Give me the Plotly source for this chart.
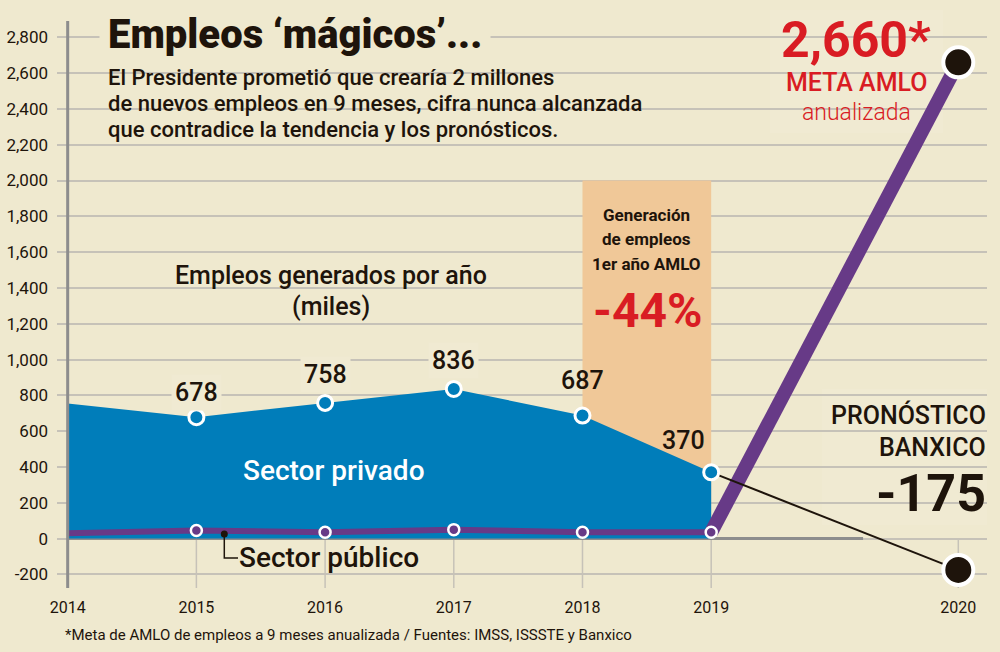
import plotly.graph_objects as go

# ---------------- data ----------------
anios = [2014, 2015, 2016, 2017, 2018, 2019]
sector_privado = [755, 678, 758, 836, 687, 370]
sector_publico = [30, 45, 35, 50, 35, 35]
anio_meta = 2020
meta_amlo = 2660
pronostico_banxico = -175
generacion_amlo = "-44%"

anios_eje = [2014, 2015, 2016, 2017, 2018, 2019, 2020]
pos_eje = [2014, 2015, 2016, 2017, 2018, 2019, 2020.92]   # axis is compressed after 2019
y_ticks = list(range(-200, 2801, 200))
y_ticktext = [f"{v:,}" for v in y_ticks]

# ---------------- style ----------------
BG = "#efe9cf"
LABEL_BG = "#f0ead2"
BLUE = "#007dba"
PURPLE = "#673a87"
ORANGE = "#f0c898"
RED = "#d91c23"
DARK = "#1e140b"
GRID = "#c6c2b8"
AXIS = "#8d8d8d"
FONT = "Roboto"

pos = dict(zip(anios_eje, pos_eje))
X_RANGE = [2013.917, 2021.143]
Y_RANGE = [-276, 2891]

L, R, T, B = 57, 13, 21, 64
W, H = 1000, 652
PW, PH = W - L - R, H - T - B


def fx(px):
    return (px - L) / PW


def fy(py):
    return (H - B - py) / PH


fig = go.Figure()

# blue area (private sector)
fig.add_trace(go.Scatter(x=anios, y=sector_privado, mode="lines", fill="tozeroy",
                         fillcolor=BLUE, line=dict(width=0, color=BLUE),
                         hoverinfo="skip", showlegend=False))
# public sector band
fig.add_trace(go.Scatter(x=anios, y=sector_publico, mode="lines",
                         line=dict(width=6, color=PURPLE), hoverinfo="skip", showlegend=False))
# AMLO goal line
fig.add_trace(go.Scatter(x=[anios[-1], pos[anio_meta]], y=[sector_publico[-1], meta_amlo],
                         mode="lines", line=dict(width=14, color=PURPLE),
                         hoverinfo="skip", showlegend=False))
# Banxico forecast line
fig.add_trace(go.Scatter(x=[anios[-1], pos[anio_meta]], y=[sector_privado[-1], pronostico_banxico],
                         mode="lines", line=dict(width=2, color=DARK),
                         hoverinfo="skip", showlegend=False))
# private markers
fig.add_trace(go.Scatter(x=anios[1:], y=sector_privado[1:], mode="markers",
                         marker=dict(size=15, color=BLUE, line=dict(color="white", width=3)),
                         hoverinfo="skip", showlegend=False))
# public markers
fig.add_trace(go.Scatter(x=anios[1:], y=sector_publico[1:], mode="markers",
                         marker=dict(size=11, color=PURPLE, line=dict(color="white", width=2.5)),
                         hoverinfo="skip", showlegend=False))
# 2020 big markers
fig.add_trace(go.Scatter(x=[pos[anio_meta], pos[anio_meta]], y=[meta_amlo, pronostico_banxico],
                         mode="markers",
                         marker=dict(size=30, color=DARK, line=dict(color="white", width=4)),
                         hoverinfo="skip", showlegend=False))

shapes = []
# orange highlight box (first AMLO year)
shapes.append(dict(type="rect", xref="x", yref="y", x0=2018, x1=2019, y0=0, y1=2000,
                   fillcolor=ORANGE, line=dict(width=0), layer="between"))
# background boxes behind texts
shapes.append(dict(type="rect", xref="paper", yref="paper", x0=fx(100), x1=fx(682),
                   y0=fy(142), y1=fy(62), fillcolor=BG, line=dict(width=0), layer="between"))
shapes.append(dict(type="rect", xref="paper", yref="paper", x0=fx(770), x1=fx(943),
                   y0=fy(133), y1=fy(10), fillcolor=LABEL_BG, line=dict(width=0), layer="between"))
shapes.append(dict(type="rect", xref="paper", yref="paper", x0=fx(822), x1=fx(987),
                   y0=fy(525), y1=fy(389), fillcolor=LABEL_BG, line=dict(width=0), layer="between"))
# vertical year ticks below zero
for p in pos_eje[1:]:
    shapes.append(dict(type="line", xref="x", yref="y", x0=p, x1=p, y0=Y_RANGE[0], y1=0,
                       line=dict(color=GRID, width=1.5), layer="between"))
# zero line
shapes.append(dict(type="line", xref="x", yref="y", x0=2014, x1=2020.18, y0=0, y1=0,
                   line=dict(color=AXIS, width=3), layer="between"))
# y axis line
shapes.append(dict(type="line", xref="x", yref="paper", x0=2014, x1=2014, y0=0, y1=1,
                   line=dict(color=AXIS, width=3), layer="above"))
# "Sector público" connector
shapes.append(dict(type="path", xref="paper", yref="paper",
                   path=f"M {fx(224.3)} {fy(534)} L {fx(224.3)} {fy(558)} L {fx(238)} {fy(558)}",
                   line=dict(color=DARK, width=1.5), layer="above"))
shapes.append(dict(type="circle", xref="paper", yref="paper",
                   x0=fx(220.8), x1=fx(227.8), y0=fy(537.5), y1=fy(530.5),
                   fillcolor=DARK, line=dict(width=0), layer="above"))

ann = []


def text(px, py, s, size, color=DARK, weight=400, xanchor="center", bg=None, pad=1):
    d = dict(xref="paper", yref="paper", x=fx(px), y=fy(py), text=s, showarrow=False,
             xanchor=xanchor, yanchor="middle",
             font=dict(family=FONT, size=size, color=color, weight=weight), borderpad=pad)
    if bg:
        d["bgcolor"] = bg
    ann.append(d)


# value labels
yshifts = [25, 28, 28, 35, 32]
xshifts = [0, 0, 0, 0, -28]
label_bgs = [LABEL_BG, LABEL_BG, LABEL_BG, None, None]
for i, (a, v) in enumerate(zip(anios[1:], sector_privado[1:])):
    d = dict(xref="x", yref="y", x=a, y=v, text=f"{v:,}", showarrow=False,
             xshift=xshifts[i], yshift=yshifts[i], borderpad=3,
             font=dict(family=FONT, size=25, color=DARK, weight=500))
    if label_bgs[i]:
        d["bgcolor"] = label_bgs[i]
    ann.append(d)

# title and subtitle
text(99, 34, "Empleos ‘mágicos’...", 40, weight=900, xanchor="left", bg=BG, pad=8)
sub = ["El Presidente prometió que crearía 2 millones",
       "de nuevos empleos en 9 meses, cifra nunca alcanzada",
       "que contradice la tendencia y los pronósticos."]
for i, s in enumerate(sub):
    text(107, 77 + i * 26, s, 22, weight=500, xanchor="left", pad=0)

text(331, 275, "Empleos generados por año", 25, weight=500)
text(331, 306, "(miles)", 25, weight=500)
text(334, 470, "Sector privado", 28, color="white", weight=500)
text(237, 557, "Sector público", 28, weight=500, xanchor="left")

# orange box texts
for i, s in enumerate(["Generación", "de empleos", "1er año AMLO"]):
    text(646, 215 + i * 24.5, s, 17, weight=700, pad=0)
text(647, 310, generacion_amlo, 48, color=RED, weight=700)

# AMLO goal
text(779, 40, f"{meta_amlo:,}*", 50, color=RED, weight=700, xanchor="left")
text(856, 82, "META AMLO", 25, color=RED, weight=500)
text(856, 112, "anualizada", 23, color=RED, weight=300)

# Banxico
text(988, 415, "PRONÓSTICO", 25, weight=500, xanchor="right")
text(988, 447, "BANXICO", 25, weight=500, xanchor="right")
text(988, 493, f"{pronostico_banxico}", 52, weight=700, xanchor="right")

# footnote
text(63, 635, "*Meta de AMLO de empleos a 9 meses anualizada / Fuentes: IMSS, ISSSTE y Banxico",
     15, weight=400, xanchor="left")

fig.update_layout(
    width=W, height=H,
    margin=dict(l=L, r=R, t=T, b=B, autoexpand=False),
    paper_bgcolor=BG, plot_bgcolor=BG,
    showlegend=False,
    shapes=shapes, annotations=ann,
    xaxis=dict(range=X_RANGE, tickvals=pos_eje, ticktext=[str(a) for a in anios_eje],
               showgrid=False, zeroline=False, showline=False, ticks="", automargin=False,
               tickfont=dict(family=FONT, size=16, color=DARK), ticklabelstandoff=8),
    yaxis=dict(range=Y_RANGE, tickvals=y_ticks, ticktext=y_ticktext, automargin=False,
               showgrid=True, gridcolor=GRID, gridwidth=1.5, zeroline=False,
               showline=False, ticks="",
               tickfont=dict(family=FONT, size=17, color=DARK), ticklabelstandoff=8),
)

fig.write_html("out.html")
